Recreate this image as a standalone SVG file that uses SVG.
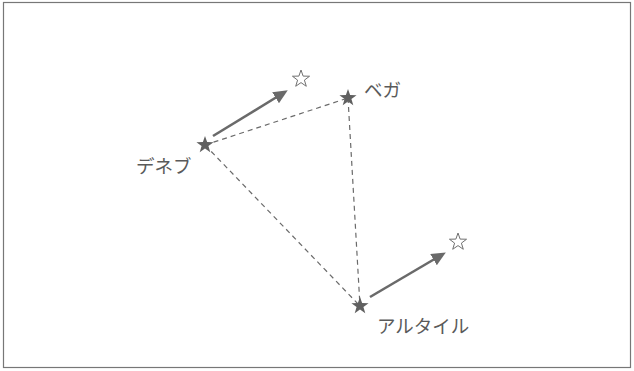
<svg xmlns="http://www.w3.org/2000/svg" width="634" height="371" viewBox="0 0 634 371">
<style>
.lbl{font-family:"Noto Sans CJK JP","Liberation Sans",sans-serif;font-size:18.5px;fill:#5a5a5a}
.dash{stroke:#6a6a6a;stroke-width:1.2;stroke-dasharray:5,4;fill:none}
.arr{stroke:#6a6a6a;stroke-width:2.6;fill:none}
.fs{fill:#606060}
.hs{fill:none;stroke:#707070;stroke-width:1}
</style>
<defs>
<polygon id="star" points="0,-9 2.11,-2.91 8.56,-2.78 3.42,1.12 5.29,7.28 0,3.6 -5.29,7.28 -3.42,1.12 -8.56,-2.78 -2.11,-2.91"/>
<marker id="ah" markerWidth="5.5" markerHeight="5" refX="2" refY="2.5" orient="auto" markerUnits="strokeWidth">
<path d="M0,0 L5.5,2.5 L0,5 Z" fill="#6a6a6a"/>
</marker>
</defs>
<rect x="3.5" y="2.5" width="627" height="365" fill="#fff" stroke="#777" stroke-width="1.2"/>
<g id="connectors">
<line class="dash" x1="205" y1="145" x2="348" y2="98"/>
<line class="dash" x1="205" y1="145" x2="360" y2="306"/>
<line class="dash" x1="348" y1="98" x2="360" y2="306"/>
<line class="arr" x1="213" y1="136" x2="280" y2="95" marker-end="url(#ah)"/>
<line class="arr" x1="370" y1="297" x2="438" y2="257" marker-end="url(#ah)"/>
</g>
<g id="deneb">
<use href="#star" x="205" y="145" class="fs"/>
<text class="lbl" x="136" y="173">デネブ</text>
</g>
<g id="vega">
<use href="#star" x="348" y="98" class="fs"/>
<text class="lbl" x="364" y="97">ベガ</text>
</g>
<g id="altair">
<use href="#star" x="360" y="306" class="fs"/>
<text class="lbl" x="377" y="333">アルタイル</text>
</g>
<g id="deneb-future">
<use href="#star" x="301" y="79" class="hs"/>
</g>
<g id="altair-future">
<use href="#star" x="458" y="242" class="hs"/>
</g>
</svg>
